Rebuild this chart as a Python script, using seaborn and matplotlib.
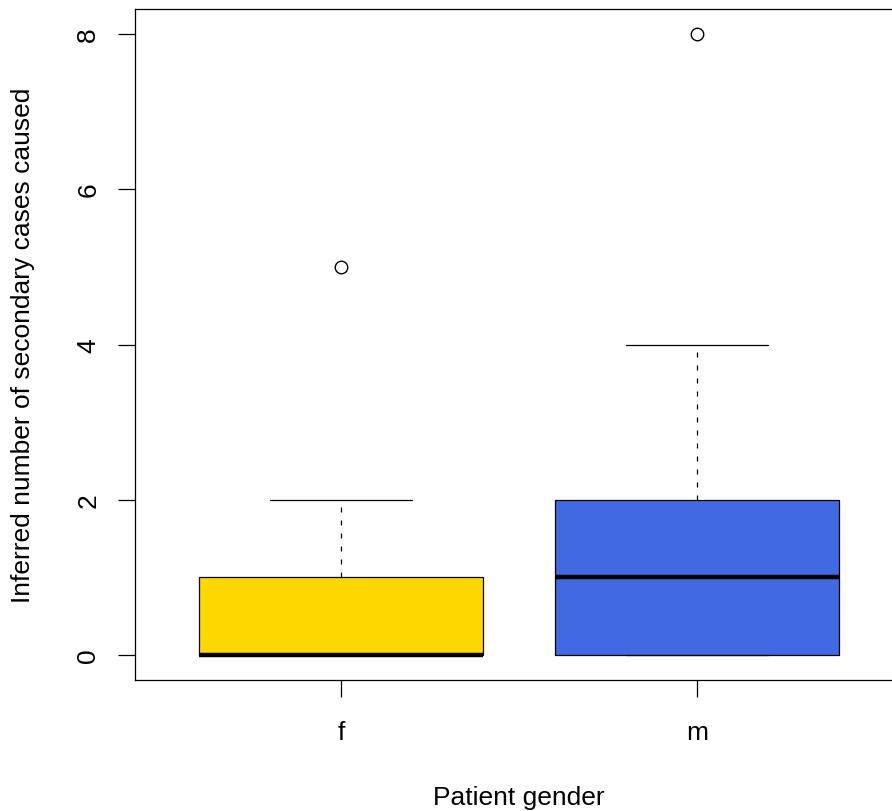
import matplotlib
matplotlib.use("Agg")
import matplotlib.pyplot as plt
import seaborn as sns
import pandas as pd

# inferred secondary cases per patient, by gender
cases_f = [0, 0, 0, 0, 0, 0, 1, 1, 1, 2, 5]
cases_m = [0, 0, 0, 0, 1, 1, 1, 2, 2, 2, 3, 4, 8]
genders = ["f", "m"]
box_colors = ["#FFD700", "#4169E1"]

df = pd.DataFrame({
    "gender": ["f"] * len(cases_f) + ["m"] * len(cases_m),
    "cases": cases_f + cases_m,
})

sns.set_style("white", {"text.color": "black", "axes.labelcolor": "black",
                        "xtick.color": "black", "ytick.color": "black",
                        "axes.edgecolor": "black"})
plt.rcParams["font.family"] = ["Liberation Sans", "DejaVu Sans"]

fig = plt.figure(figsize=(8.92, 8.12), dpi=100)
ax = fig.add_axes([135 / 892, 131 / 812, 768 / 892, 671 / 812])

sns.boxplot(data=df, x="gender", y="cases", order=genders, hue="gender",
            hue_order=genders, palette=box_colors, legend=False,
            saturation=1, width=0.8, linecolor="black", linewidth=0.9,
            ax=ax, whis=1.5,
            whiskerprops={"linestyle": (0, (4, 6.4)), "linewidth": 0.9},
            capprops={"linewidth": 0.9},
            medianprops={"linewidth": 3.2, "color": "black"},
            flierprops={"marker": "o", "markerfacecolor": "none",
                        "markeredgecolor": "black", "markersize": 9,
                        "markeredgewidth": 1.0})

ax.set_xlim(-0.58, 1.58)
ax.set_ylim(-0.32, 8.32)
ax.set_yticks([0, 2, 4, 6, 8])
ax.set_yticklabels(["0", "2", "4", "6", "8"], rotation=90, va="center")
ax.tick_params(axis="both", direction="out", length=12, width=0.9,
               colors="black", labelsize=19, left=True, bottom=True)
ax.tick_params(axis="x", pad=17)
ax.tick_params(axis="y", pad=13)
for s in ax.spines.values():
    s.set_visible(True)
    s.set_color("black")
    s.set_linewidth(0.9)
ax.set_xlabel("Patient gender", fontsize=19, labelpad=29, color="black")
ax.set_ylabel("Inferred number of secondary cases caused", fontsize=19,
              labelpad=30, color="black")

fig.savefig("out.png", dpi=100)
